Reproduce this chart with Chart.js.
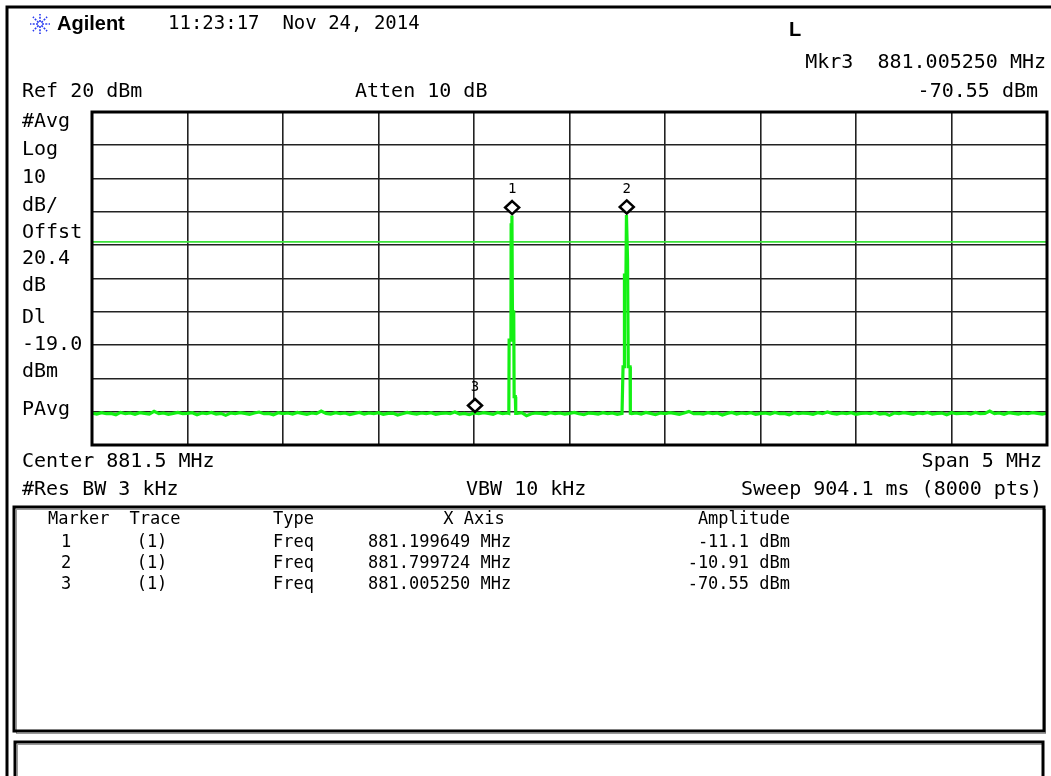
<!DOCTYPE html>
<html><head><meta charset="utf-8">
<script src="https://cdn.jsdelivr.net/npm/chart.js@4.4.0/dist/chart.umd.min.js"></script>
<style>html,body{margin:0;padding:0;background:#fff;overflow:hidden}canvas{display:block}</style>
</head><body>
<canvas id="c" width="1051" height="776"></canvas>
<script>
// ---------------- data ----------------
const sweepStartMHz = 879.0;      // Center 881.5 MHz, Span 5 MHz
const sweepStepMHz = 0.025;       // spacing of the noise samples
const xMinMHz = 879.0, xMaxMHz = 884.0, xDivMHz = 0.5;
const yMinDbm = -80, yMaxDbm = 20, yDivDb = 10;
const displayLineDbm = -19.0;

// noise floor (PAvg trace), read left to right
const noiseDbm = [
-70.4,-70.7,-70.3,-70.6,-70.5,-70.9,-70.2,-70.6,-70.4,-70.8,-70.3,-70.5,-70.7,-69.9,-70.6,-70.4,-70.8,-70.5,-70.2,-70.6,
-70.5,-70.3,-70.9,-70.4,-70.6,-70.2,-70.7,-70.5,-71.1,-70.4,-70.6,-70.3,-70.5,-70.8,-70.4,-70.1,-70.6,-70.5,-70.9,-70.3,
-70.6,-70.4,-70.7,-70.2,-70.5,-70.8,-70.4,-70.6,-69.8,-70.5,-70.7,-70.3,-70.6,-70.4,-70.9,-70.5,-70.2,-70.7,-70.4,-70.6,
-70.3,-70.8,-70.5,-70.4,-71.0,-70.6,-70.2,-70.5,-70.7,-70.4,-70.6,-70.3,-70.8,-70.5,-70.4,-70.6,-70.1,-70.7,-70.5,-70.9,
-70.4,-70.6,-70.3,-70.5,-70.8,-70.2,-70.6,-70.4,-70.7,-70.5,-70.3,-71.2,-70.6,-70.4,-70.5,-70.8,-70.3,-70.6,-70.4,-70.7,
-70.5,-70.2,-70.6,-70.9,-70.4,-70.5,-70.7,-70.3,-70.6,-70.4,-70.8,-70.5,-70.3,-70.6,-70.4,-70.7,-70.2,-70.5,-70.9,-70.4,
-70.6,-70.3,-70.5,-70.8,-70.4,-69.9,-70.6,-70.5,-70.7,-70.3,-70.6,-70.4,-71.0,-70.5,-70.2,-70.7,-70.4,-70.6,-70.3,-70.8,
-70.5,-70.4,-70.7,-70.2,-70.6,-70.5,-70.9,-70.3,-70.6,-70.4,-70.5,-70.8,-70.3,-70.6,-70.1,-70.5,-70.7,-70.4,-70.6,-70.3,
-70.8,-70.5,-70.4,-70.6,-70.2,-70.7,-70.5,-71.1,-70.4,-70.6,-70.3,-70.5,-70.8,-70.4,-70.6,-70.2,-70.7,-70.5,-70.4,-70.9,
-70.3,-70.6,-70.5,-70.4,-70.7,-70.2,-70.6,-70.5,-69.8,-70.6,-70.4,-70.8,-70.3,-70.5,-70.7,-70.4,-70.6,-70.3,-70.5,-70.7,
-70.4
];

// carrier 1 (around marker 1)
const peak1FreqMHz = [881.18237, 881.18394, 881.19337, 881.19441, 881.19860, 881.20122, 881.20803, 881.21012, 881.21640, 881.21850];
const peak1Dbm     = [-70.5,     -48.5,     -48.5,     -13.9,     -11.1,     -40.0,     -40.0,     -65.5,     -65.5,     -70.5];
// carrier 2 (around marker 2)
const peak2FreqMHz = [881.77878, 881.78035, 881.78663, 881.78768, 881.79554, 881.79815, 881.80077, 881.80391, 881.80758, 881.81700, 881.81857];
const peak2Dbm     = [-70.5,     -56.5,     -56.5,     -29.0,     -29.0,     -10.91,    -10.91,    -24.4,     -56.5,     -56.5,     -70.5];

// markers
const markerIds     = ['1', '2', '3'];
const markerTrace   = ['(1)', '(1)', '(1)'];
const markerType    = ['Freq', 'Freq', 'Freq'];
const markerFreqMHz = [881.199649, 881.799724, 881.005250];
const markerAmpDbm  = [-11.1, -10.91, -70.55];
const markerAmpText = ['-11.1 dBm', '-10.91 dBm', '-70.55 dBm'];

// screen annotations
const leftLabels = ['#Avg', 'Log', '10', 'dB/', 'Offst', '20.4', 'dB', 'Dl', '-19.0', 'dBm', 'PAvg'];
const leftLabelY = [122, 150, 178, 206, 233, 259, 286, 318, 345, 372, 410];

// ---------------- build the trace ----------------
const inside = (f, arr) => f > arr[0] && f < arr[arr.length - 1];
const trace = [];
noiseDbm.forEach((v, i) => {
  const f = sweepStartMHz + i * sweepStepMHz;
  if (inside(f, peak1FreqMHz) || inside(f, peak2FreqMHz)) return;
  trace.push({ x: f, y: v });
});
peak1FreqMHz.forEach((f, i) => trace.push({ x: f, y: peak1Dbm[i] }));
peak2FreqMHz.forEach((f, i) => trace.push({ x: f, y: peak2Dbm[i] }));
trace.sort((a, b) => a.x - b.x);

const MONO = '"DejaVu Sans Mono", "Liberation Mono", monospace';

function txt(ctx, s, x, y, align, font, color) {
  ctx.save();
  ctx.font = font;
  ctx.fillStyle = color || '#000';
  ctx.textAlign = align || 'left';
  ctx.textBaseline = 'middle';
  ctx.fillText(s, x, y);
  ctx.restore();
}

const screenPlugin = {
  id: 'screen',
  beforeDraw(chart) {
    const ctx = chart.ctx;
    ctx.save();
    ctx.fillStyle = '#fff';
    ctx.fillRect(0, 0, chart.width, chart.height);
    ctx.restore();
  },
  afterDatasetsDraw(chart) {
    const ctx = chart.ctx;
    const a = chart.chartArea;
    const xs = chart.scales.x, ys = chart.scales.y;

    // plot frame
    ctx.save();
    ctx.strokeStyle = '#000';
    ctx.lineWidth = 3;
    ctx.strokeRect(a.left, a.top, a.right - a.left, a.bottom - a.top);
    ctx.restore();

    // markers (diamond sits above the marked point)
    markerFreqMHz.forEach((f, i) => {
      const px = xs.getPixelForValue(f);
      const py = ys.getPixelForValue(markerAmpDbm[i]);
      const cy = py - 8;
      ctx.save();
      ctx.beginPath();
      ctx.moveTo(px, cy - 6.5);
      ctx.lineTo(px + 7, cy);
      ctx.lineTo(px, cy + 6.5);
      ctx.lineTo(px - 7, cy);
      ctx.closePath();
      ctx.fillStyle = '#fff';
      ctx.fill();
      ctx.strokeStyle = '#000';
      ctx.lineWidth = 2.5;
      ctx.stroke();
      ctx.restore();
      txt(ctx, markerIds[i], px, py - 26, 'center', '14px ' + MONO, '#000');
    });

    // outer screen border (left & top)
    ctx.save();
    ctx.strokeStyle = '#000';
    ctx.lineWidth = 3;
    ctx.beginPath();
    ctx.moveTo(7, 800);
    ctx.lineTo(7, 7);
    ctx.lineTo(1060, 7);
    ctx.stroke();
    ctx.restore();

    // Agilent logo (blue starburst)
    ctx.save();
    ctx.strokeStyle = '#2a3cf0';
    ctx.lineWidth = 1.6;
    ctx.setLineDash([2, 1.3]);
    const lx = 40, ly = 24;
    for (let k = 0; k < 8; k++) {
      const ang = k * Math.PI / 4;
      ctx.beginPath();
      ctx.moveTo(lx + Math.cos(ang) * 2, ly + Math.sin(ang) * 2);
      ctx.lineTo(lx + Math.cos(ang) * 10, ly + Math.sin(ang) * 10);
      ctx.stroke();
    }
    ctx.restore();

    const F = '20px ' + MONO;
    txt(ctx, 'Agilent', 57, 24, 'left', 'bold 20px "Liberation Sans", Arial, sans-serif');
    txt(ctx, '11:23:17  Nov 24, 2014', 168, 24, 'left', '19px ' + MONO);
    txt(ctx, 'L', 789, 30, 'left', 'bold 20px "Liberation Sans", Arial, sans-serif');
    txt(ctx, 'Mkr3  881.005250 MHz', 1046, 63, 'right', F);
    txt(ctx, 'Ref 20 dBm', 22, 92, 'left', F);
    txt(ctx, 'Atten 10 dB', 355, 92, 'left', F);
    txt(ctx, '-70.55 dBm', 1038, 92, 'right', F);

    leftLabels.forEach((s, i) => txt(ctx, s, 22, leftLabelY[i], 'left', F));

    txt(ctx, 'Center 881.5 MHz', 22, 462, 'left', F);
    txt(ctx, 'Span 5 MHz', 1042, 462, 'right', F);
    txt(ctx, '#Res BW 3 kHz', 22, 490, 'left', F);
    txt(ctx, 'VBW 10 kHz', 466, 490, 'left', F);
    txt(ctx, 'Sweep 904.1 ms (8000 pts)', 1042, 490, 'right', F);

    // marker table box
    ctx.save();
    ctx.strokeStyle = '#999';
    ctx.lineWidth = 1;
    ctx.strokeRect(16.5, 509.5, 1029, 224);
    ctx.strokeStyle = '#000';
    ctx.lineWidth = 3;
    ctx.strokeRect(14, 507, 1030, 224);
    // bottom message box
    ctx.strokeStyle = '#999';
    ctx.lineWidth = 1;
    ctx.strokeRect(17.5, 744.5, 1026, 60);
    ctx.strokeStyle = '#000';
    ctx.lineWidth = 3;
    ctx.strokeRect(15, 742, 1028, 60);
    ctx.restore();

    const FT = '17px ' + MONO;
    txt(ctx, 'Marker', 48, 520, 'left', FT);
    txt(ctx, 'Trace', 155, 520, 'center', FT);
    txt(ctx, 'Type', 273, 520, 'left', FT);
    txt(ctx, 'X Axis', 474, 520, 'center', FT);
    txt(ctx, 'Amplitude', 790, 520, 'right', FT);
    const rowY = [543, 564, 585];
    markerIds.forEach((id, i) => {
      const y = rowY[i];
      txt(ctx, id, 66, y, 'center', FT);
      txt(ctx, markerTrace[i], 152, y, 'center', FT);
      txt(ctx, markerType[i], 273, y, 'left', FT);
      txt(ctx, markerFreqMHz[i].toFixed(6) + ' MHz', 368, y, 'left', FT);
      txt(ctx, markerAmpText[i], 790, y, 'right', FT);
    });
  }
};

new Chart(document.getElementById('c'), {
  type: 'line',
  data: {
    datasets: [
      {
        label: 'Display line',
        data: [{ x: xMinMHz, y: displayLineDbm }, { x: xMaxMHz, y: displayLineDbm }],
        borderColor: '#3be23b',
        borderWidth: 1.8,
        pointRadius: 0,
        order: 2
      },
      {
        label: 'Trace 1',
        data: trace,
        borderColor: '#14f014',
        borderWidth: 3.2,
        pointRadius: 0,
        tension: 0,
        order: 1
      }
    ]
  },
  options: {
    responsive: false,
    animation: false,
    devicePixelRatio: 1,
    layout: { padding: { left: 92, top: 112, right: 4, bottom: 331 } },
    plugins: { legend: { display: false }, tooltip: { enabled: false } },
    scales: {
      x: {
        type: 'linear', min: xMinMHz, max: xMaxMHz,
        ticks: { display: false, stepSize: xDivMHz },
        grid: { color: '#222', lineWidth: 1.6, drawTicks: false },
        border: { display: false }
      },
      y: {
        type: 'linear', min: yMinDbm, max: yMaxDbm,
        ticks: { display: false, stepSize: yDivDb },
        grid: { color: '#222', lineWidth: 1.6, drawTicks: false },
        border: { display: false }
      }
    }
  },
  plugins: [screenPlugin]
});
</script>
</body></html>
